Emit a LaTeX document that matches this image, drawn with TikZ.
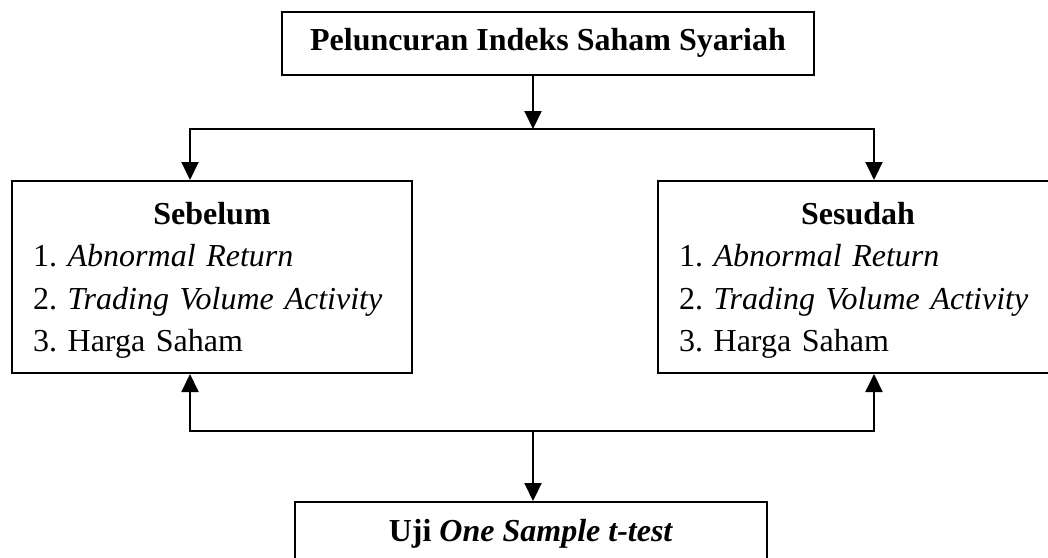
\documentclass[tikz,border=0pt]{standalone}
\usepackage{fontspec}
\setmainfont{Liberation Serif}
\usetikzlibrary{arrows.meta}

\begin{document}
\begin{tikzpicture}[x=1pt, y=-1pt,
    box/.style={draw, line width=2pt, inner sep=0pt, font=\fontsize{32}{42.5}\selectfont\frenchspacing},
    list/.style={box, text width=358pt, inner xsep=21pt, minimum height=192pt, align=left},
    arr/.style={line width=2pt, -{Triangle[length=18pt, width=17pt]}}]
    \clip (0,0) rectangle (1048,557);
    \node[box, minimum width=532pt, minimum height=63pt] (launch) at (548,43) {\textbf{Peluncuran Indeks Saham Syariah}};
    \node[list] (sebelum) at (212,277) {\rule{0pt}{29pt}\makebox[\linewidth]{\textbf{Sebelum}}\\ 1. \textit{Abnormal Return}\\ 2. \textit{Trading Volume Activity}\\ 3. Harga Saham};
    \node[list] (sesudah) at (858,277) {\rule{0pt}{29pt}\makebox[\linewidth]{\textbf{Sesudah}}\\ 1. \textit{Abnormal Return}\\ 2. \textit{Trading Volume Activity}\\ 3. Harga Saham};
    \node[box, minimum width=472pt, minimum height=64pt] (uji) at (531,534) {\textbf{Uji \textit{One Sample t-test}}};
    \coordinate (split) at (533,129);
    \coordinate (join) at (533,431);
    % from the launch down to both periods
    \draw[arr] (launch.south -| split) -- (split);
    \draw[arr] (split) -| ([xshift=-22pt]sebelum.north);
    \draw[arr] (split) -| ([xshift=16pt]sesudah.north);
    % both periods into the test
    \draw[arr] (join) -| ([xshift=-22pt]sebelum.south);
    \draw[arr] (join) -| ([xshift=16pt]sesudah.south);
    \draw[arr] (join) -- (join |- uji.north);
\end{tikzpicture}
\end{document}
